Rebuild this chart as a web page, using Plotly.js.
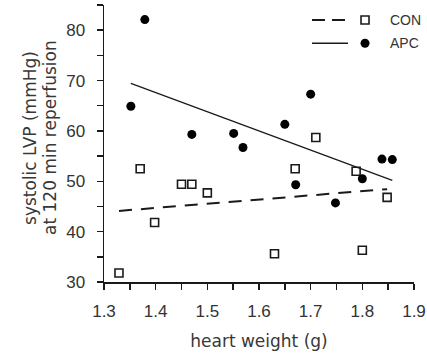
<!DOCTYPE html>
<html>
<head>
<meta charset="utf-8">
<script src="https://cdn.plot.ly/plotly-3.0.1.min.js"></script>
<style>html,body{margin:0;padding:0;background:#fff;}#chart{width:427px;height:358px;}</style>
</head>
<body>
<div id="chart"></div>
<script>
// CON group (open squares)
const conWeight = [1.329, 1.370, 1.398, 1.450, 1.470, 1.500, 1.630, 1.670, 1.710, 1.788, 1.800, 1.848];
const conLVP    = [31.8, 52.5, 41.8, 49.4, 49.4, 47.7, 35.6, 52.5, 58.7, 52.0, 36.3, 46.8];
// APC group (filled markers)
const apcWeight = [1.352, 1.379, 1.470, 1.551, 1.569, 1.650, 1.671, 1.700, 1.748, 1.800, 1.838, 1.858];
const apcLVP    = [64.9, 82.1, 59.3, 59.5, 56.7, 61.3, 49.3, 67.3, 45.7, 50.5, 54.4, 54.3];
const groupNames = ['CON', 'APC'];
const xTickVals = [1.3, 1.4, 1.5, 1.6, 1.7, 1.8, 1.9];
const yTickVals = [30, 40, 50, 60, 70, 80];

function fitLine(xs, ys) {
  const n = xs.length;
  const mx = xs.reduce((a, b) => a + b, 0) / n;
  const my = ys.reduce((a, b) => a + b, 0) / n;
  let sxy = 0, sxx = 0;
  for (let i = 0; i < n; i++) { sxy += (xs[i] - mx) * (ys[i] - my); sxx += (xs[i] - mx) ** 2; }
  const b = sxy / sxx, a = my - b * mx;
  const x0 = Math.min(...xs), x1 = Math.max(...xs);
  return { x: [x0, x1], y: [a + b * x0, a + b * x1] };
}
const conFit = fitLine(conWeight, conLVP);
const apcFit = fitLine(apcWeight, apcLVP);
const ink = '#1a1a1a';

const traces = [
  { type: 'scatter', mode: 'lines', x: conFit.x, y: conFit.y, line: { color: ink, width: 2, dash: '13px,9px' }, showlegend: false, hoverinfo: 'skip' },
  { type: 'scatter', mode: 'lines', x: apcFit.x, y: apcFit.y, line: { color: ink, width: 1.3 }, showlegend: false, hoverinfo: 'skip' },
  { type: 'scatter', mode: 'markers', name: groupNames[0], x: conWeight, y: conLVP,
    marker: { symbol: 'square-open', size: 8, color: ink, line: { width: 1.6, color: ink } }, showlegend: false },
  { type: 'scatter', mode: 'markers', name: groupNames[1], x: apcWeight, y: apcLVP,
    marker: { symbol: 'circle', size: 9, color: '#000', line: { width: 0 } }, showlegend: false }
];

const tickFont = { family: 'Liberation Sans, Arial, sans-serif', size: 17, color: '#333' };
const titleFont = { family: 'DejaVu Sans, sans-serif', size: 17, color: '#383838' };

// hand-built legend (line segment, marker, label)
const legRows = [0.946, 0.862];
const shapes = [
  { type: 'line', xref: 'paper', yref: 'paper', x0: 0.671, x1: 0.787, y0: legRows[0], y1: legRows[0], line: { color: ink, width: 2, dash: '13px,7px' } },
  { type: 'line', xref: 'paper', yref: 'paper', x0: 0.671, x1: 0.787, y0: legRows[1], y1: legRows[1], line: { color: ink, width: 1.3 } },
  { type: 'rect', xref: 'paper', yref: 'paper', xsizemode: 'pixel', ysizemode: 'pixel', xanchor: 0.842, yanchor: legRows[0], x0: -4, x1: 4, y0: -4, y1: 4, line: { color: ink, width: 1.6 }, fillcolor: 'rgba(0,0,0,0)' },
  { type: 'circle', xref: 'paper', yref: 'paper', xsizemode: 'pixel', ysizemode: 'pixel', xanchor: 0.842, yanchor: legRows[1], x0: -4.5, x1: 4.5, y0: -4.5, y1: 4.5, line: { width: 0 }, fillcolor: '#000' }
];
const legFont = { family: 'Liberation Sans, Arial, sans-serif', size: 14, color: '#333' };
const annotations = [
  { xref: 'paper', yref: 'paper', x: 0.916, y: legRows[0], text: groupNames[0], showarrow: false, xanchor: 'left', yanchor: 'middle', font: legFont },
  { xref: 'paper', yref: 'paper', x: 0.916, y: legRows[1], text: groupNames[1], showarrow: false, xanchor: 'left', yanchor: 'middle', font: legFont },
  { xref: 'paper', yref: 'paper', x: 0, y: 0.52, xshift: -74, text: 'systolic LVP (mmHg)', textangle: -90, showarrow: false, xanchor: 'center', yanchor: 'middle', font: titleFont },
  { xref: 'paper', yref: 'paper', x: 0, y: 0.52, xshift: -54, text: 'at 120 min reperfusion', textangle: -90, showarrow: false, xanchor: 'center', yanchor: 'middle', font: titleFont }
];

const layout = {
  width: 427, height: 358,
  margin: { l: 104, r: 13, t: 5, b: 76 },
  paper_bgcolor: '#fff', plot_bgcolor: '#fff',
  showlegend: false,
  xaxis: {
    range: [1.3, 1.9], tickvals: xTickVals, ticktext: xTickVals.map(v => v.toFixed(1)),
    showgrid: false, zeroline: false, showline: true, linecolor: ink, linewidth: 1.5,
    ticks: 'outside', ticklen: 6, tickwidth: 1.5, tickcolor: ink, ticklabelstandoff: 7,
    minor: { dtick: 0.05, tick0: 1.3, ticks: 'outside', ticklen: 6, tickwidth: 1.5, tickcolor: ink, showgrid: false },
    tickfont: tickFont,
    title: { text: 'heart weight (g)', font: titleFont, standoff: 15 }
  },
  yaxis: {
    range: [30, 85], tickvals: yTickVals,
    showgrid: false, zeroline: false, showline: true, linecolor: ink, linewidth: 1.5,
    ticks: 'outside', ticklen: 6, tickwidth: 1.5, tickcolor: ink, ticklabelstandoff: 8,
    minor: { dtick: 5, tick0: 30, ticks: 'outside', ticklen: 6, tickwidth: 1.5, tickcolor: ink, showgrid: false },
    tickfont: tickFont
  },
  shapes: shapes,
  annotations: annotations
};

Plotly.newPlot('chart', traces, layout, { displayModeBar: false, staticPlot: true });
</script>
</body>
</html>
